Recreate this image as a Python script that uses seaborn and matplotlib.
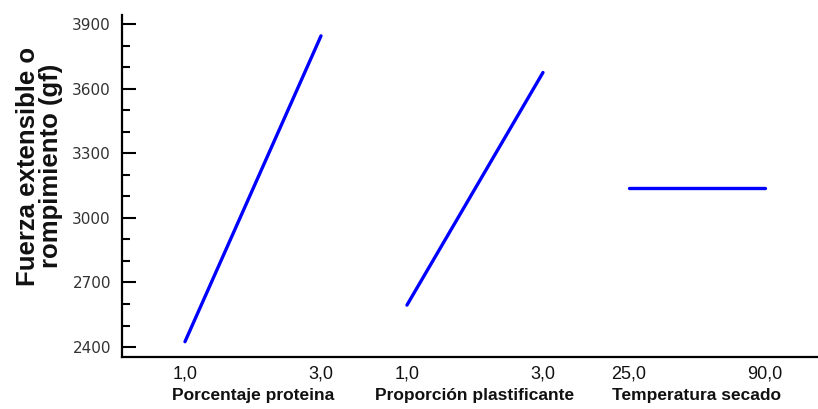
import matplotlib
matplotlib.use("Agg")
import matplotlib.pyplot as plt
import matplotlib.transforms as mtransforms
from matplotlib.ticker import MultipleLocator
import seaborn as sns
import pandas as pd

# ---- data ----
factors = ["Porcentaje proteina", "Proporción plastificante", "Temperatura secado"]
low_labels = ["1,0", "1,0", "25,0"]
high_labels = ["3,0", "3,0", "90,0"]
low_values = [2425, 2595, 3140]
high_values = [3845, 3675, 3140]
y_label = "Fuerza extensible o\nrompimiento (gf)"

sns.set_theme(style="ticks")
plt.rcParams['font.family'] = ['Liberation Sans', 'DejaVu Sans']

# layout: each factor occupies a unit segment, separated by a gap
step = 1.632
rows = []
tick_pos, tick_lab = [], []
for i, f in enumerate(factors):
    x0 = i * step
    x1 = x0 + 1
    rows.append({"factor": f, "pos": x0, "value": low_values[i]})
    rows.append({"factor": f, "pos": x1, "value": high_values[i]})
    tick_pos += [x0, x1]
    tick_lab += [low_labels[i], high_labels[i]]
df = pd.DataFrame(rows)

fig = plt.figure(figsize=(8.18, 4.09), dpi=100)
ax = fig.add_axes([122 / 818, 1 - 357 / 409, 1 - 122 / 818, (357 - 15) / 409])

sns.lineplot(data=df, x="pos", y="value", units="factor", estimator=None,
             color="#0000FF", linewidth=2.4, ax=ax, legend=False)

ax.set_xlim(-0.463, 4.654)
ax.set_ylim(2354, 3942)
ax.yaxis.set_major_locator(MultipleLocator(300))
ax.yaxis.set_minor_locator(MultipleLocator(100))
ax.tick_params(axis="y", which="major", direction="in", length=10, width=1.5,
               pad=8, labelsize=11, labelcolor="#333333", color="black")
ax.tick_params(axis="y", which="minor", direction="in", length=5.5, width=1.5,
               color="black")
for lab in ax.get_yticklabels():
    lab.set_family("DejaVu Sans")

ax.set_xticks(tick_pos)
ax.set_xticklabels(tick_lab)
ax.tick_params(axis="x", length=0, pad=6, labelsize=13, labelcolor="#111111")

for s in ["top", "right"]:
    ax.spines[s].set_visible(False)
for s in ["left", "bottom"]:
    ax.spines[s].set_linewidth(1.6)
    ax.spines[s].set_color("black")

trans = mtransforms.blended_transform_factory(ax.transData, ax.transAxes)
for i, f in enumerate(factors):
    ax.text(i * step + 0.5, -0.091, f, transform=trans, ha="center", va="top",
            fontsize=12.5, fontweight="bold", color="#111111")

ax.set_xlabel("")
ax.set_ylabel(y_label, fontsize=18.5, fontweight="bold", color="#111111",
              linespacing=0.95)
ax.yaxis.set_label_coords(-0.085, 0.558)

fig.savefig("out.png", dpi=100)
